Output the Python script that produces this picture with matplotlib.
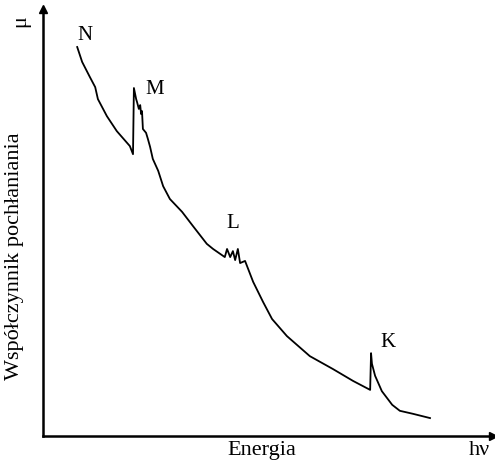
import matplotlib
matplotlib.use("Agg")
import matplotlib.pyplot as plt

# absorption curve (energy, mu in arbitrary units 0..100)
energy = [7.6, 8.7, 10.4, 11.6, 12.2, 14.2, 16.4, 19.3, 20.0,
          20.2, 20.7, 20.9, 21.3, 21.6, 21.8, 22.0, 22.2, 22.9, 23.3, 23.8,
          24.4, 25.6, 26.7, 28.2, 30.9, 33.3, 36.4, 37.8, 40.4,
          40.9, 41.6, 42.2, 42.7, 43.3, 43.8, 44.9, 46.7, 48.9, 50.9,
          54.2, 59.3, 64.4, 68.9, 72.7,
          72.9, 73.1, 73.8, 75.3, 77.6, 79.3, 82.2, 86.0]
mu = [91.1, 87.6, 84.1, 81.7, 78.9, 74.9, 71.4, 67.9, 66.0,
      81.5, 78.9, 78.2, 76.6, 77.5, 75.4, 76.1, 71.9, 71.0, 69.6, 67.7,
      64.9, 62.1, 58.5, 55.5, 52.5, 49.2, 45.0, 43.8, 41.9,
      43.8, 41.9, 43.3, 41.2, 43.8, 40.5, 41.0, 36.1, 31.4, 27.4,
      23.4, 18.7, 15.7, 12.9, 10.8,
      19.4, 16.9, 14.1, 10.5, 7.3, 5.9, 5.2, 4.2]

# absorption edges
edge_names = ["N", "M", "L", "K"]
edge_x = [9.3, 24.9, 42.2, 76.7]
edge_y = [94.1, 81.3, 50.1, 22.2]

plt.rcParams['font.family'] = ['Liberation Serif', 'DejaVu Serif']

fig = plt.figure(figsize=(4.95, 4.64), dpi=100)
ax = fig.add_axes([43 / 495, 27 / 464, 450 / 495, 427 / 464])
ax.set_xlim(0, 100)
ax.set_ylim(0, 100)

ax.plot(energy, mu, color='black', linewidth=1.3)

for name, x, y in zip(edge_names, edge_x, edge_y):
    ax.text(x, y, name, ha='center', va='center', fontsize=15)

# axes as arrows
for side in ['top', 'right']:
    ax.spines[side].set_visible(False)
ax.spines['left'].set_linewidth(1.8)
ax.spines['bottom'].set_linewidth(1.8)
ax.set_xticks([])
ax.set_yticks([])
ax.plot(1, 0, '>k', transform=ax.transAxes, clip_on=False, ms=6)
ax.plot(0, 1, '^k', transform=ax.transAxes, clip_on=False, ms=6)

fig.text(0.030, 0.448, 'Współczynnik pochłaniania', rotation=90,
         ha='center', va='center', fontsize=16)
fig.text(0.042, 0.955, 'μ', rotation=90, ha='center', va='center', fontsize=16)
fig.text(0.529, 0.030, 'Energia', ha='center', va='center', fontsize=16)
fig.text(0.968, 0.030, 'hν', ha='center', va='center', fontsize=16)

fig.savefig('out.png', dpi=100)
